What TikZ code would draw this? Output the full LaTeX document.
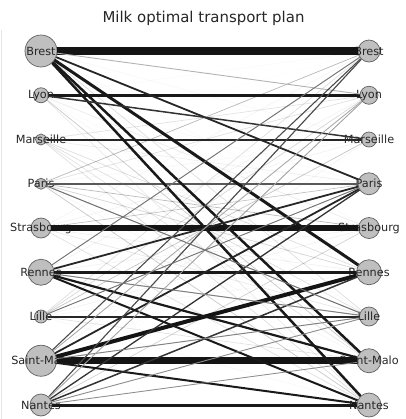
\documentclass[tikz,border=0pt]{standalone}
\usepackage{fontspec}
\setmainfont{DejaVu Sans}
\tikzset{
  city/.style={circle, fill=black!25, draw=black!62, line width=0.7bp, inner sep=0pt},
  citylabel/.style={font=\fontsize{11.3}{13}\selectfont, text=black!85, inner sep=0pt},
  faintflow/.style={draw=black, line width=0.7bp},
}
\begin{document}
\begin{tikzpicture}[x=1bp,y=-1bp]
\useasboundingbox (0,0) rectangle (406,419);
\node[font=\fontsize{15}{18}\selectfont, text=black!85] (title) at (203.5,18) {Milk optimal transport plan};
\coordinate (axtop) at (1.5,30);
\coordinate (axbot) at (1.5,419);
\draw[black!10, line width=0.6bp] (axtop) -- (axbot);
% producers (left) and consumers (right)
\foreach \name/\rl/\rr [count=\k] in {Brest/16/11, Lyon/7.5/9, Marseille/5.5/7.5, Paris/5.5/11, Strasbourg/10/10.5, Rennes/13/12.5, Lille/6.5/9.5, Saint-Malo/15.5/12, Nantes/11/12}{
  \pgfmathsetmacro\yy{51+44.25*(\k-1)}
  \pgfmathsetmacro\dl{2*\rl}
  \pgfmathsetmacro\dr{2*\rr}
  \node[city, minimum size=\dl bp] (L\k) at (41,\yy) {};
  \node[city, minimum size=\dr bp] (R\k) at (369,\yy) {};
  \node[citylabel] (LT\k) at (L\k.center) {\name};
  \node[citylabel] (RT\k) at (R\k.center) {\name};
}
% small flows
\pgfmathsetseed{2024}
\foreach \i in {1,...,9}{\foreach \j in {1,...,9}{
  \pgfmathsetmacro\op{0.42*rnd*rnd}
  \draw[faintflow, opacity=\op] (L\i) -- (R\j);
}}
% main flows: source/target/width/darkness
\foreach \i/\j/\w/\c in {
  1/1/8.5/92, 2/2/3.5/90, 3/3/2/85, 4/4/1.6/65, 5/5/6.5/92,
  6/6/3.5/90, 7/7/2/85, 8/8/7/92, 9/9/3/90,
  1/6/3/90, 1/8/2.5/90, 1/9/2.5/90, 1/4/1.8/85, 1/2/0.9/30,
  2/3/1.5/80, 8/6/4/92, 8/4/1.8/85, 6/4/1.8/85, 9/4/1.3/80,
  6/8/2.2/90, 6/9/2/90, 8/9/2/90, 9/6/1.5/80, 8/1/1.1/70,
  9/1/1.1/70, 6/1/0.9/55, 8/7/0.9/50, 4/7/1/55, 6/7/1/50,
  9/7/0.9/45, 9/8/0.8/45, 9/2/0.8/35, 8/2/0.8/35, 7/4/0.9/55}{
  \draw[line width=\w bp, draw=black!\c] (L\i) -- (R\j);
}
\end{tikzpicture}
\end{document}
